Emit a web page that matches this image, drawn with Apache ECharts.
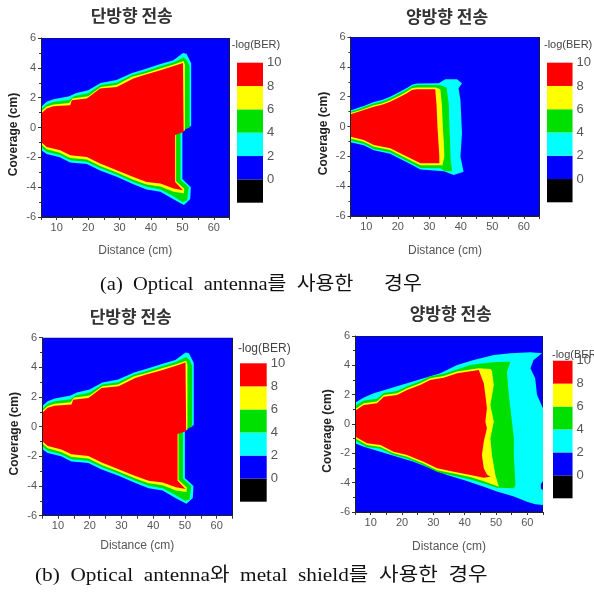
<!DOCTYPE html>
<html><head><meta charset="utf-8">
<script src="https://cdn.jsdelivr.net/npm/echarts@6/dist/echarts.min.js"></script>
<style>html,body{margin:0;padding:0;background:#fff}#c{width:594px;height:596px}</style>
</head><body><div id="c"></div><script>
// -log(BER) contour bands: [0,2) blue, [2,4) cyan, [4,6) green, [6,8) yellow, [8,10] red, below 0 black
const levelTicks = [-2, 0, 2, 4, 6, 8, 10];
const bandColors = ['#000000', '#0000fe', '#00ffff', '#00e000', '#ffff00', '#ff0000'];

// whole measured field (everything is at least level 0)
const fieldDomain = [[5, -6], [65, -6], [65, 6], [5, 6]];

// one-way transmission (same field in both setups)
const oneWayL2 = [[5,1.38],[6.8,1.72],[9,1.9],[14,2.1],[16,2.3],[20,2.5],[24,2.98],[29,3.18],[34,3.65],[38,3.9],[43,4.25],[47,4.5],[50.2,5.0],[51.3,4.95],[52.8,4.3],[52.8,0.1],[50,-0.15],[50,-3.45],[52.7,-4.0],[52.5,-4.8],[50.5,-5.2],[47,-4.8],[43,-4.3],[38.6,-4.15],[34.4,-3.8],[29.1,-3.3],[23.8,-2.88],[19.6,-2.45],[14.3,-2.35],[11,-2.0],[6.8,-1.78],[5,-1.5]];
const oneWayL4 = [[5,1.2],[6.8,1.55],[9,1.72],[14,1.85],[15.5,2.1],[20,2.3],[24,2.85],[29,3.0],[34,3.52],[38,3.75],[43,4.1],[47,4.35],[50.4,4.7],[51.5,4.5],[52.3,4.1],[52.3,0.0],[49.4,-0.25],[49.4,-3.5],[52,-4.0],[51.5,-4.9],[50,-5.0],[47,-4.6],[43,-4.15],[38.6,-3.98],[34.4,-3.65],[29.1,-3.15],[23.8,-2.72],[19.6,-2.3],[14.3,-2.2],[11,-1.85],[6.8,-1.62],[5,-1.3]];
const oneWayL6 = [[5,1.05],[6.8,1.4],[9,1.55],[14,1.65],[15,1.95],[20,2.1],[24,2.72],[29,2.85],[34,3.4],[38,3.62],[43,3.95],[47,4.2],[50.4,4.45],[50.8,4.2],[50.8,-0.2],[48,-0.45],[48,-3.6],[50.6,-4.1],[50.5,-4.4],[47.2,-4.3],[43,-3.95],[38.6,-3.82],[34.4,-3.5],[29.1,-3.02],[23.8,-2.58],[19.6,-2.15],[14.3,-2.05],[11,-1.7],[6.8,-1.45],[5,-1.1]];
const oneWayL8 = [[5,0.93],[6.8,1.27],[8.9,1.42],[14.3,1.49],[14.8,1.82],[19.6,1.94],[23.8,2.61],[29.1,2.72],[34.4,3.28],[37.6,3.5],[43,3.83],[47,4.1],[50.2,4.32],[50.4,-0.3],[47.7,-0.5],[47.7,-3.65],[50.2,-4.2],[47.2,-4.09],[43,-3.76],[38.6,-3.65],[34.4,-3.32],[29.1,-2.87],[23.8,-2.42],[19.6,-1.98],[14.3,-1.86],[11.1,-1.53],[6.8,-1.3],[5,-0.97]];

// two-way transmission, optical antenna only
const twoWayAntL2 = [[5,1.08],[7,1.22],[9.2,1.38],[12.4,1.64],[15,1.77],[17.6,2.0],[20.8,2.34],[22.9,2.58],[24.5,2.8],[26.1,2.88],[33,2.9],[35.1,3.16],[38.8,3.16],[40.4,2.9],[39.3,2.56],[39.9,1.78],[40.4,-0.45],[39.9,-2.02],[40.9,-3.03],[37.8,-3.25],[34.6,-3.0],[27.2,-2.88],[24,-2.52],[20.8,-2.18],[17.6,-1.82],[12.4,-1.6],[9.2,-1.26],[5,-1.05]];
const twoWayAntL4 = [[5,1.0],[7,1.13],[9.2,1.3],[12.4,1.55],[15,1.68],[17.6,1.9],[20.8,2.24],[22.9,2.48],[24.5,2.7],[26.1,2.78],[33.5,2.78],[35.5,2.6],[36.2,1.5],[36.4,0],[36.6,-1.0],[36.8,-2.3],[37.3,-3.0],[35,-3.0],[33.5,-2.8],[27.2,-2.78],[24,-2.42],[20.8,-2.08],[17.6,-1.72],[12.4,-1.5],[9.2,-1.16],[5,-0.95]];
const twoWayAntL6 = [[5,0.9],[7,1.03],[9.2,1.18],[12.4,1.42],[15,1.54],[17.6,1.76],[20.8,2.1],[22.9,2.34],[24.5,2.56],[26.1,2.62],[32,2.62],[33.5,2.5],[34,1.5],[34.3,0],[34.6,-1.0],[34.8,-2.0],[34.2,-2.6],[27.2,-2.6],[24,-2.26],[20.8,-1.92],[17.6,-1.58],[12.4,-1.36],[9.2,-1.02],[5,-0.8]];
const twoWayAntL8 = [[5,0.82],[7,0.95],[9.2,1.1],[12.4,1.33],[15,1.45],[17.6,1.66],[20.8,2.0],[22.9,2.23],[24.5,2.45],[26.1,2.5],[31.9,2.49],[32.3,1.5],[32.6,0],[32.9,-1.0],[33.2,-2.0],[33.2,-2.47],[27.2,-2.47],[24,-2.13],[20.8,-1.8],[17.6,-1.46],[12.4,-1.24],[9.2,-0.9],[5,-0.68]];

// two-way transmission, optical antenna with metal shield
const twoWayShL2 = [[5,1.45],[8,1.82],[11,2.09],[16.3,2.43],[21.6,2.77],[26.9,3.12],[32.2,3.46],[37.6,4.02],[42.9,4.36],[49.3,4.7],[54.6,4.82],[61,4.89],[64.7,4.82],[62,4.36],[61,3.8],[62.5,3.12],[63.1,1.98],[65,1.07],[65,-3.9],[64.3,-4.1],[64.3,-4.4],[65,-4.5],[65,-5.52],[62.5,-5.47],[59.9,-5.3],[55.7,-4.95],[50.3,-4.61],[46.1,-4.27],[39.7,-3.82],[34.4,-3.48],[29,-3.02],[23.7,-2.57],[18.4,-2.23],[13.1,-1.89],[7.8,-1.55],[5,-1.32]];
const twoWayShL4 = [[5,1.25],[7.8,1.6],[12,1.72],[14.2,2.12],[18.4,2.25],[21.6,2.58],[25.8,2.92],[29,3.25],[33.3,3.42],[37.6,3.72],[41.8,4.02],[46,4.15],[50,4.22],[54.6,4.25],[53.5,3.57],[54.1,1.98],[55.1,0.16],[55.7,-0.98],[55.7,-2.11],[56.2,-4.16],[55.7,-4.38],[50.3,-4.35],[46.1,-4.05],[41.8,-3.78],[36.5,-3.52],[31.2,-3.28],[26.9,-2.82],[21.6,-2.36],[17.3,-2.12],[13.1,-1.68],[8.8,-1.56],[5,-1.12]];
const twoWayShL6 = [[5,1.0],[7.8,1.42],[12,1.53],[14.2,1.97],[18.4,2.1],[21.6,2.44],[25.8,2.78],[29,3.12],[33.3,3.28],[37.6,3.58],[44.5,3.8],[48.2,3.75],[48.7,3.61],[49.3,2.66],[48.2,1.3],[49.3,0.16],[48.2,-0.98],[48.7,-2.11],[49.8,-3.48],[50.9,-4.27],[46.1,-3.9],[41.8,-3.62],[36.5,-3.38],[31.2,-3.15],[26.9,-2.7],[21.6,-2.24],[17.3,-2.0],[13.1,-1.56],[8.8,-1.44],[5,-0.98]];
const twoWayShL8 = [[5,0.9],[7.8,1.3],[12,1.41],[14.2,1.86],[18.4,1.98],[21.6,2.32],[25.8,2.66],[29,3.0],[33.3,3.16],[37.6,3.46],[44.5,3.68],[46.1,2.77],[46.6,1.98],[47.1,1.07],[46.6,0.16],[47.1,-0.29],[46.1,-1.2],[45.5,-2.11],[46.1,-3.02],[47.1,-3.45],[48.2,-3.59],[46.1,-3.66],[41.8,-3.48],[36.5,-3.25],[31.2,-3.02],[26.9,-2.57],[21.6,-2.11],[17.3,-1.89],[13.1,-1.43],[8.8,-1.32],[5,-0.86]];

const panelTitles = ['단방향 전송', '양방향 전송', '단방향 전송', '양방향 전송'];
const xLabelTicks = [10, 20, 30, 40, 50, 60];
const yLabelTicks = [-6, -4, -2, 0, 2, 4, 6];
const captionA = '(a)  Optical  antenna를  사용한      경우';
const captionB = '(b)  Optical  antenna와  metal  shield를  사용한  경우';
const barTitle = '-log(BER)';

const panels = [
  [fieldDomain, oneWayL2, oneWayL4, oneWayL6, oneWayL8],
  [fieldDomain, twoWayAntL2, twoWayAntL4, twoWayAntL6, twoWayAntL8],
  [fieldDomain, oneWayL2, oneWayL4, oneWayL6, oneWayL8],
  [fieldDomain, twoWayShL2, twoWayShL4, twoWayShL6, twoWayShL8]
];

const plotGrids = [
  { left: 41, top: 38, width: 188.5, height: 179 },
  { left: 350.5, top: 37, width: 189, height: 179 },
  { left: 42, top: 337.7, width: 190.5, height: 178 },
  { left: 355, top: 336, width: 188, height: 176 }
];
const xNameGaps = [28, 29, 24, 29];
const barGrids = [
  { left: 237, top: 62.7, width: 26, height: 140 },
  { left: 547, top: 62.7, width: 26.7, height: 139.6 },
  { left: 240, top: 363.3, width: 26.7, height: 138.4 },
  { left: 553, top: 360.7, width: 26.7, height: 137.6 }
];

const sans = '"Liberation Sans", Arial, sans-serif';
const grids = [], xAxes = [], yAxes = [], series = [];

plotGrids.forEach((g, i) => {
  grids.push(Object.assign({ containLabel: false }, g));
  xAxes.push({
    type: 'value', gridIndex: i, min: 5, max: 65, interval: 5, z: 5,
    name: 'Distance (cm)', nameLocation: 'middle', nameGap: xNameGaps[i],
    nameTextStyle: { fontFamily: sans, fontSize: 12, color: '#555' },
    axisLine: { show: true, onZero: false, lineStyle: { color: '#222', width: 1 } },
    axisTick: { show: true, length: 3, lineStyle: { color: '#333' } },
    axisLabel: { fontFamily: sans, fontSize: 11, color: '#555', margin: 5,
      formatter: v => xLabelTicks.indexOf(v) >= 0 ? String(v) : '' },
    splitLine: { show: false }
  });
  yAxes.push({
    type: 'value', gridIndex: i, min: -6, max: 6, interval: 2, z: 5,
    name: 'Coverage (cm)', nameLocation: 'middle', nameGap: 21,
    nameTextStyle: { fontFamily: sans, fontSize: 12, fontWeight: 'bold', color: '#222', padding: [0, 14, 0, 0] },
    axisLine: { show: true, onZero: false, lineStyle: { color: '#222', width: 1 } },
    axisTick: { show: true, length: 3, lineStyle: { color: '#333' } },
    minorTick: { show: true, splitNumber: 2, length: 2, lineStyle: { color: '#333' } },
    axisLabel: { fontFamily: sans, fontSize: 11, color: '#555', margin: 5,
      formatter: v => yLabelTicks.indexOf(v) >= 0 ? String(v) : '' },
    splitLine: { show: false }
  });
  const regions = panels[i];
  series.push({
    type: 'custom', xAxisIndex: i, yAxisIndex: i, clip: true, silent: true,
    data: regions.map((r, k) => [levelTicks[k + 1], levelTicks[k + 2]]),
    renderItem: (params, api) => {
      const k = params.dataIndex;
      const pts = regions[k].map(p => api.coord(p));
      return {
        type: 'polygon', shape: { points: pts },
        style: k === 0
          ? { fill: bandColors[1], stroke: '#1a1a33', lineWidth: 1 }
          : { fill: bandColors[k + 1] }
      };
    }
  });
});

barGrids.forEach((g, j) => {
  const idx = plotGrids.length + j;
  grids.push(Object.assign({ containLabel: false }, g));
  xAxes.push({ type: 'value', gridIndex: idx, min: 0, max: 1, show: false });
  yAxes.push({
    type: 'value', gridIndex: idx, min: levelTicks[0], max: levelTicks[levelTicks.length - 1],
    interval: 2, position: 'right',
    axisLine: { show: false }, axisTick: { show: false }, splitLine: { show: false },
    axisLabel: { fontFamily: sans, fontSize: 13, color: '#555', margin: 4,
      formatter: v => v < 0 ? '' : String(v) }
  });
  const bands = levelTicks.slice(0, -1).map((lo, k) => [lo, levelTicks[k + 1]]);
  series.push({
    type: 'custom', xAxisIndex: idx, yAxisIndex: idx, silent: true,
    data: bands,
    renderItem: (params, api) => {
      const lo = api.value(0), hi = api.value(1);
      const a = api.coord([0, hi]), b = api.coord([1, lo]);
      return {
        type: 'rect', shape: { x: a[0], y: a[1], width: b[0] - a[0], height: b[1] - a[1] },
        style: { fill: bandColors[params.dataIndex] }
      };
    },
    encode: { x: -1, y: [0, 1] }
  });
});

const titleFont = 'bold 17px "Noto Sans CJK KR", sans-serif';
const captionFont = '19px "Liberation Serif", "Noto Sans CJK KR", serif';
const texts = [
  { x: 131.7, y: 15.5, text: panelTitles[0], font: titleFont, fill: '#333', align: 'center' },
  { x: 447, y: 16.5, text: panelTitles[1], font: titleFont, fill: '#333', align: 'center' },
  { x: 130.7, y: 317, text: panelTitles[2], font: titleFont, fill: '#333', align: 'center' },
  { x: 450.7, y: 313.7, text: panelTitles[3], font: titleFont, fill: '#333', align: 'center' },
  { x: 256, y: 45, text: barTitle, font: '11px ' + sans, fill: '#444', align: 'center' },
  { x: 544, y: 45, text: barTitle, font: '11px ' + sans, fill: '#444', align: 'left' },
  { x: 238, y: 348.5, text: barTitle, font: '12px ' + sans, fill: '#444', align: 'left' },
  { x: 552, y: 355, text: barTitle, font: '11px ' + sans, fill: '#444', align: 'left' },
  { x: 100, y: 285, text: captionA, font: captionFont, fill: '#111', align: 'left', sx: 1.08 },
  { x: 35, y: 576, text: captionB, font: captionFont, fill: '#111', align: 'left', sx: 1.12 }
];

const chart = echarts.init(document.getElementById('c'), null, { renderer: 'canvas' });
chart.setOption({
  backgroundColor: '#fff',
  animation: false,
  grid: grids, xAxis: xAxes, yAxis: yAxes, series: series,
  graphic: texts.map(t => ({
    type: 'text', x: t.x, y: t.y, scaleX: t.sx || 1, silent: true,
    style: { text: t.text, font: t.font, fill: t.fill, align: t.align, verticalAlign: 'middle' }
  }))
});
</script></body></html>
